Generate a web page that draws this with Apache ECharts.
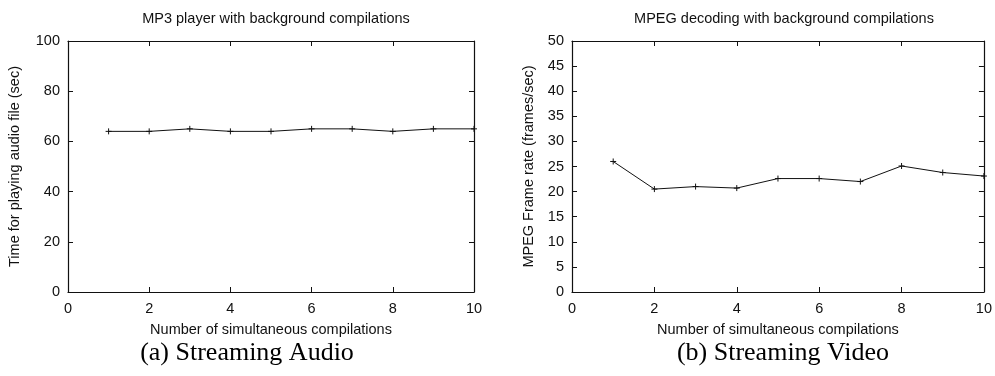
<!DOCTYPE html>
<html>
<head>
<meta charset="utf-8">
<script src="https://cdn.jsdelivr.net/npm/echarts@6/dist/echarts.min.js"></script>
<style>
  html, body { margin: 0; padding: 0; background: #fff; }
  #chart { width: 995px; height: 376px; }
</style>
</head>
<body>
<div id="chart"></div>
<script>
// number of simultaneous compilations
const compilations = [1, 2, 3, 4, 5, 6, 7, 8, 9, 10];
// (a) time for playing the audio file, sec
const audioTime = [64, 64, 65, 64, 64, 65, 65, 64, 65, 65];
// (b) MPEG frame rate, frames/sec
const videoFps = [26, 20.5, 21, 20.7, 22.6, 22.6, 22, 25.1, 23.8, 23.1];

const chart = echarts.init(document.getElementById('chart'));

const sansFont = 'Liberation Sans, Arial, sans-serif';
const serifFont = 'Liberation Serif, Times New Roman, serif';
const ink = '#111';
const plus = 'path://M-1 0L1 0M0 -1L0 1';
const fs = 14.5;

const tickIn = { show: true, inside: true, length: 5, lineStyle: { color: ink, width: 1 } };
const axisLn = { show: true, onZero: false, lineStyle: { color: ink, width: 1.2 } };
const lbl = { color: ink, fontSize: fs, fontFamily: sansFont };
const nameStyle = { color: ink, fontSize: fs, fontFamily: sansFont };

// main axes + mirrored axes (ticks only) to get the boxed look
function xAxes(gridIndex) {
    return [
        {
            type: 'value', gridIndex, min: 0, max: 10, interval: 2,
            name: 'Number of simultaneous compilations', nameLocation: 'middle', nameGap: 30,
            nameTextStyle: nameStyle,
            axisLine: axisLn, axisTick: tickIn, axisLabel: { ...lbl, margin: 9 },
            splitLine: { show: false }
        },
        {
            type: 'value', gridIndex, position: 'top', min: 0, max: 10, interval: 2,
            axisLine: axisLn, axisTick: tickIn, axisLabel: { show: false },
            splitLine: { show: false }
        }
    ];
}

function yAxes(gridIndex, max, interval, name, gap) {
    return [
        {
            type: 'value', gridIndex, min: 0, max, interval,
            name, nameLocation: 'middle', nameGap: gap, nameRotate: 90,
            nameTextStyle: nameStyle,
            axisLine: axisLn, axisTick: tickIn, axisLabel: { ...lbl, margin: 8 },
            splitLine: { show: false }
        },
        {
            type: 'value', gridIndex, position: 'right', min: 0, max, interval,
            axisLine: axisLn, axisTick: tickIn, axisLabel: { show: false },
            splitLine: { show: false }
        }
    ];
}

function lineSeries(xIdx, yIdx, values) {
    return {
        type: 'line', xAxisIndex: xIdx, yAxisIndex: yIdx,
        data: compilations.map((c, i) => [c, values[i]]),
        symbol: plus, symbolSize: 6,
        itemStyle: { color: 'none', borderColor: ink, borderWidth: 1 },
        lineStyle: { color: ink, width: 1 },
        silent: true, animation: false
    };
}

const option = {
    backgroundColor: '#fff',
    animation: false,
    title: [
        { text: 'MP3 player with background compilations', left: 271, top: 6, textAlign: 'center',
          textStyle: { fontSize: fs, fontWeight: 'normal', color: ink, fontFamily: sansFont } },
        { text: 'MPEG decoding with background compilations', left: 779, top: 6, textAlign: 'center',
          textStyle: { fontSize: fs, fontWeight: 'normal', color: ink, fontFamily: sansFont } },
        { text: '(a) Streaming Audio', left: 242, top: 335, textAlign: 'center',
          textStyle: { fontSize: 26, fontWeight: 'normal', color: '#000', fontFamily: serifFont } },
        { text: '(b) Streaming Video', left: 778, top: 335, textAlign: 'center',
          textStyle: { fontSize: 26, fontWeight: 'normal', color: '#000', fontFamily: serifFont } }
    ],
    grid: [
        { left: 68, right: 521, top: 41, bottom: 84 },
        { left: 572, right: 9, top: 41, bottom: 84 }
    ],
    xAxis: [...xAxes(0), ...xAxes(1)],
    yAxis: [
        ...yAxes(0, 100, 20, 'Time for playing audio file (sec)', 46),
        ...yAxes(1, 50, 5, 'MPEG Frame rate (frames/sec)', 36)
    ],
    series: [
        lineSeries(0, 0, audioTime),
        lineSeries(2, 2, videoFps)
    ]
};

chart.setOption(option);
</script>
</body>
</html>
